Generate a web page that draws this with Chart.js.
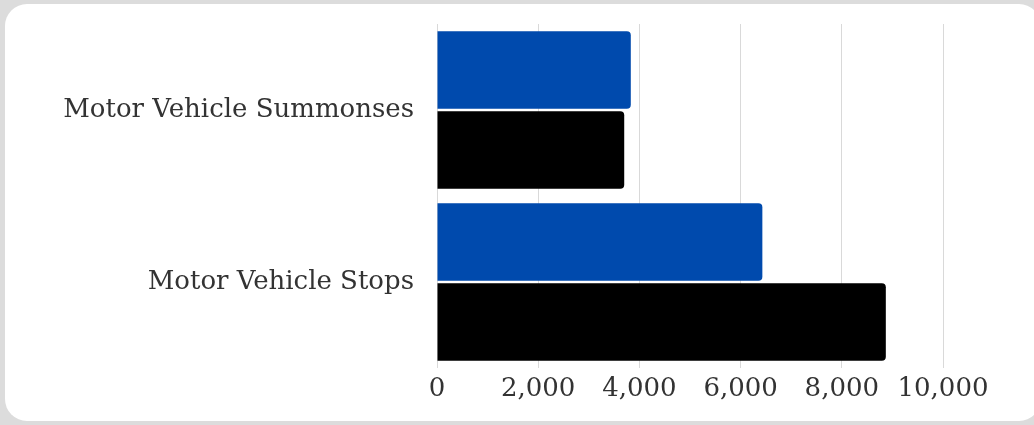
<!DOCTYPE html>
<html>
<head>
<meta charset="utf-8">
<script src="https://cdn.jsdelivr.net/npm/chart.js@4"></script>
<style>
    html, body { margin: 0; padding: 0; background: #dcdcdc; overflow: hidden; }
    .card { position: absolute; left: 5px; top: 4px; width: 1036px; height: 417px; background: #fff; border-radius: 22px; }
    .wrap { position: absolute; left: 0; top: 0; width: 1034px; height: 425px; }
</style>
</head>
<body>
<div class="card"></div>
<div class="wrap"><canvas id="trafficChart"></canvas></div>
<script>
const categories = ['Motor Vehicle Summonses', 'Motor Vehicle Stops'];
const blueValues = [3830, 6430];
const blackValues = [3700, 8870];
const xTicks = [0, 2000, 4000, 6000, 8000, 10000];

const ctx = document.getElementById('trafficChart').getContext('2d');
const trafficChart = new Chart(ctx, {
    type: 'bar',
    data: {
        labels: categories,
        datasets: [{
            label: 'Series 1',
            data: blueValues,
            backgroundColor: '#004aad',
            borderRadius: 4,
            borderSkipped: 'start',
            categoryPercentage: 0.93,
            barPercentage: 0.97
        }, {
            label: 'Series 2',
            data: blackValues,
            backgroundColor: '#000000',
            borderRadius: 4,
            borderSkipped: 'start',
            categoryPercentage: 0.93,
            barPercentage: 0.97
        }]
    },
    options: {
        indexAxis: 'y',
        responsive: true,
        maintainAspectRatio: false,
        animation: false,
        layout: { padding: { left: 0, right: 91, top: 24, bottom: 0 } },
        plugins: {
            legend: { display: false },
            tooltip: { enabled: false }
        },
        scales: {
            x: {
                min: 0,
                max: 10000,
                afterBuildTicks: (scale) => { scale.ticks = xTicks.map(v => ({ value: v })); },
                grid: { color: '#d9d9d9', lineWidth: 1, drawTicks: false },
                border: { display: false },
                ticks: {
                    padding: 6,
                    color: '#333',
                    font: { family: 'DejaVu Serif', size: 26 },
                    callback: (v) => v.toLocaleString('en-US')
                },
                afterFit: (scale) => { scale.height = 57; }
            },
            y: {
                grid: { display: false },
                border: { display: false },
                ticks: {
                    padding: 15,
                    color: '#333',
                    font: { family: 'DejaVu Serif', size: 26 }
                },
                afterFit: (scale) => {
                    scale.width = 437;
                    scale.paddingTop = 0;
                    scale.paddingBottom = 0;
                }
            }
        }
    }
});
</script>
</body>
</html>
